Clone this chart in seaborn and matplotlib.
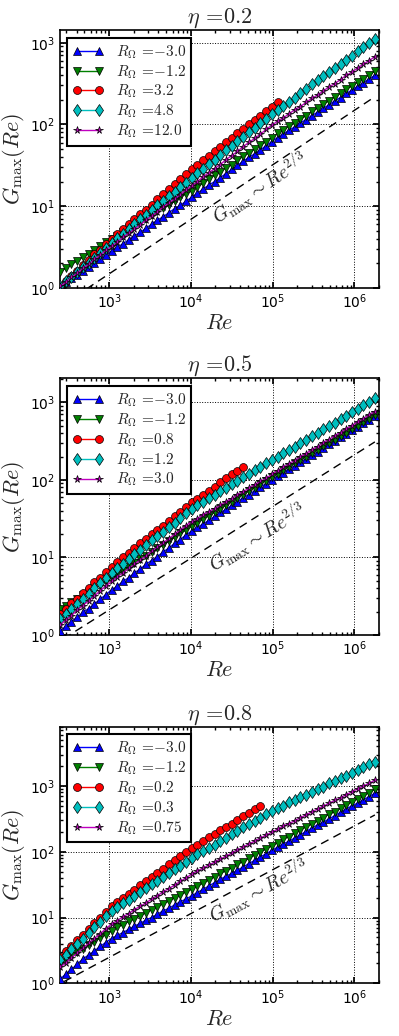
import numpy as np
import pandas as pd
import matplotlib
matplotlib.use("Agg")
import matplotlib.pyplot as plt
import seaborn as sns

# ---------------- data (log10 values) ----------------
logRe = [2.40, 2.47, 2.54, 2.61, 2.68, 2.75, 2.82, 2.89, 2.96, 3.03,
         3.10, 3.17, 3.24, 3.31, 3.38, 3.45, 3.52, 3.59, 3.66, 3.73,
         3.80, 3.87, 3.94, 4.01, 4.08, 4.15, 4.22, 4.29, 4.36, 4.43,
         4.50, 4.57, 4.64, 4.71, 4.78, 4.85, 4.92, 4.99, 5.06, 5.13,
         5.20, 5.27, 5.34, 5.41, 5.48, 5.55, 5.62, 5.69, 5.76, 5.83,
         5.90, 5.97, 6.04, 6.11, 6.18, 6.25]

# eta = 0.2
g02_m30 = [0.02, 0.07, 0.12, 0.16, 0.21, 0.26, 0.31, 0.35, 0.40, 0.45,
           0.50, 0.54, 0.59, 0.64, 0.68, 0.73, 0.78, 0.83, 0.87, 0.92,
           0.97, 1.01, 1.06, 1.11, 1.16, 1.21, 1.26, 1.30, 1.35, 1.40,
           1.45, 1.50, 1.55, 1.60, 1.64, 1.69, 1.74, 1.79, 1.84, 1.88,
           1.93, 1.97, 2.02, 2.06, 2.11, 2.15, 2.20, 2.24, 2.29, 2.33,
           2.38, 2.42, 2.47, 2.51, 2.56, 2.60]
g02_m12 = [0.20, 0.24, 0.29, 0.33, 0.38, 0.42, 0.47, 0.51, 0.56, 0.60,
           0.64, 0.68, 0.73, 0.77, 0.81, 0.85, 0.89, 0.94, 0.98, 1.02,
           1.06, 1.11, 1.15, 1.19, 1.24, 1.28, 1.33, 1.38, 1.42, 1.47,
           1.51, 1.56, 1.61, 1.65, 1.70, 1.75, 1.79, 1.84, 1.89, 1.93,
           1.98, 2.02, 2.07, 2.11, 2.16, 2.20, 2.25, 2.29, 2.34, 2.38,
           2.43, 2.47, 2.52, 2.56, 2.61, 2.65]
g02_p32 = [0.02, 0.08, 0.15, 0.21, 0.28, 0.34, 0.41, 0.47, 0.54, 0.60,
           0.66, 0.72, 0.78, 0.84, 0.90, 0.96, 1.02, 1.09, 1.15, 1.21,
           1.27, 1.33, 1.39, 1.45, 1.51, 1.56, 1.62, 1.67, 1.73, 1.78,
           1.84, 1.89, 1.95, 2.00, 2.06, 2.11, 2.17, 2.22, 2.28]
g02_p48 = [0.02, 0.08, 0.14, 0.20, 0.26, 0.31, 0.37, 0.43, 0.49, 0.55,
           0.61, 0.66, 0.72, 0.78, 0.84, 0.89, 0.95, 1.01, 1.06, 1.12,
           1.18, 1.24, 1.29, 1.35, 1.41, 1.46, 1.52, 1.57, 1.63, 1.69,
           1.74, 1.80, 1.85, 1.91, 1.96, 2.02, 2.07, 2.13, 2.18, 2.23,
           2.28, 2.33, 2.38, 2.44, 2.49, 2.54, 2.59, 2.64, 2.69, 2.74,
           2.79, 2.84, 2.90, 2.95, 3.00, 3.05]
g02_p120 = [0.02, 0.07, 0.13, 0.18, 0.24, 0.29, 0.35, 0.40, 0.46, 0.51,
            0.56, 0.62, 0.67, 0.72, 0.77, 0.83, 0.88, 0.93, 0.99, 1.04,
            1.09, 1.14, 1.20, 1.25, 1.30, 1.36, 1.41, 1.46, 1.51, 1.57,
            1.62, 1.67, 1.73, 1.78, 1.83, 1.88, 1.94, 1.99, 2.04, 2.08,
            2.13, 2.18, 2.22, 2.27, 2.32, 2.36, 2.41, 2.46, 2.50, 2.55,
            2.60, 2.64, 2.69, 2.74, 2.78, 2.83]

# eta = 0.5
g05_m30 = [0.05, 0.11, 0.17, 0.23, 0.29, 0.34, 0.40, 0.46, 0.52, 0.58,
           0.63, 0.69, 0.74, 0.80, 0.85, 0.91, 0.96, 1.01, 1.07, 1.12,
           1.18, 1.23, 1.29, 1.34, 1.39, 1.43, 1.48, 1.53, 1.58, 1.62,
           1.67, 1.72, 1.77, 1.81, 1.86, 1.91, 1.95, 2.00, 2.05, 2.09,
           2.14, 2.18, 2.23, 2.27, 2.32, 2.36, 2.41, 2.46, 2.50, 2.55,
           2.59, 2.64, 2.68, 2.73, 2.77, 2.82]
g05_m12 = [0.33, 0.38, 0.42, 0.47, 0.51, 0.56, 0.60, 0.65, 0.69, 0.74,
           0.79, 0.83, 0.88, 0.93, 0.98, 1.02, 1.07, 1.12, 1.16, 1.21,
           1.26, 1.31, 1.35, 1.40, 1.45, 1.49, 1.54, 1.58, 1.63, 1.67,
           1.72, 1.77, 1.81, 1.86, 1.90, 1.95, 1.99, 2.04, 2.08, 2.13,
           2.17, 2.22, 2.26, 2.30, 2.35, 2.39, 2.44, 2.48, 2.52, 2.57,
           2.61, 2.66, 2.70, 2.75, 2.79, 2.84]
g05_p08 = [0.27, 0.34, 0.41, 0.47, 0.54, 0.61, 0.68, 0.74, 0.81, 0.88,
           0.94, 1.00, 1.06, 1.12, 1.18, 1.24, 1.30, 1.35, 1.41, 1.47,
           1.53, 1.59, 1.65, 1.71, 1.76, 1.81, 1.86, 1.91, 1.97, 2.02,
           2.07, 2.12, 2.17]
g05_p12 = [0.20, 0.27, 0.33, 0.40, 0.47, 0.53, 0.60, 0.67, 0.73, 0.80,
           0.86, 0.92, 0.98, 1.04, 1.10, 1.16, 1.22, 1.27, 1.33, 1.39,
           1.45, 1.51, 1.57, 1.63, 1.68, 1.72, 1.77, 1.81, 1.86, 1.90,
           1.95, 1.99, 2.04, 2.08, 2.13, 2.17, 2.22, 2.26, 2.30, 2.35,
           2.39, 2.43, 2.48, 2.52, 2.57, 2.61, 2.65, 2.70, 2.74, 2.79,
           2.83, 2.87, 2.92, 2.96, 3.00, 3.05]
g05_p30 = [0.13, 0.19, 0.25, 0.32, 0.38, 0.44, 0.50, 0.57, 0.63, 0.69,
           0.75, 0.80, 0.86, 0.91, 0.97, 1.02, 1.08, 1.13, 1.19, 1.24,
           1.30, 1.35, 1.41, 1.46, 1.50, 1.55, 1.59, 1.63, 1.67, 1.72,
           1.76, 1.81, 1.85, 1.89, 1.94, 1.98, 2.02, 2.07, 2.12, 2.16,
           2.21, 2.25, 2.30, 2.34, 2.39, 2.43, 2.48, 2.52, 2.57, 2.61,
           2.66, 2.70, 2.75, 2.79, 2.84, 2.88]

# eta = 0.8
g08_m30 = [0.06, 0.14, 0.21, 0.29, 0.37, 0.43, 0.49, 0.56, 0.62, 0.68,
           0.73, 0.77, 0.82, 0.87, 0.91, 0.96, 1.00, 1.05, 1.10, 1.14,
           1.19, 1.24, 1.28, 1.33, 1.38, 1.43, 1.48, 1.53, 1.58, 1.63,
           1.67, 1.72, 1.77, 1.82, 1.87, 1.92, 1.97, 2.02, 2.07, 2.12,
           2.16, 2.21, 2.26, 2.31, 2.36, 2.41, 2.45, 2.50, 2.55, 2.60,
           2.65, 2.70, 2.74, 2.79, 2.84, 2.89]
g08_m12 = [0.30, 0.36, 0.41, 0.47, 0.52, 0.58, 0.63, 0.69, 0.74, 0.80,
           0.85, 0.89, 0.94, 0.98, 1.03, 1.07, 1.12, 1.16, 1.21, 1.25,
           1.30, 1.34, 1.39, 1.43, 1.48, 1.52, 1.57, 1.62, 1.67, 1.71,
           1.76, 1.81, 1.85, 1.90, 1.95, 2.00, 2.04, 2.09, 2.14, 2.19,
           2.23, 2.28, 2.33, 2.38, 2.42, 2.47, 2.52, 2.57, 2.61, 2.66,
           2.71, 2.76, 2.81, 2.85, 2.90, 2.95]
g08_p02 = [0.40, 0.49, 0.57, 0.66, 0.74, 0.83, 0.91, 1.00, 1.08, 1.17,
           1.23, 1.30, 1.36, 1.42, 1.49, 1.55, 1.61, 1.68, 1.74, 1.81,
           1.87, 1.93, 2.00, 2.06, 2.11, 2.17, 2.22, 2.27, 2.33, 2.38,
           2.43, 2.49, 2.54, 2.59, 2.65, 2.70]
g08_p03 = [0.35, 0.43, 0.52, 0.60, 0.68, 0.77, 0.85, 0.93, 1.02, 1.10,
           1.16, 1.22, 1.27, 1.33, 1.39, 1.45, 1.51, 1.56, 1.62, 1.68,
           1.74, 1.79, 1.85, 1.91, 1.96, 2.01, 2.06, 2.11, 2.16, 2.21,
           2.27, 2.32, 2.37, 2.42, 2.47, 2.52, 2.57, 2.62, 2.66, 2.70,
           2.75, 2.79, 2.83, 2.87, 2.91, 2.95, 2.99, 3.04, 3.08, 3.12,
           3.16, 3.20, 3.25, 3.29, 3.33, 3.37]
g08_p075 = [0.24, 0.31, 0.39, 0.46, 0.53, 0.61, 0.68, 0.75, 0.83, 0.90,
            0.95, 1.01, 1.06, 1.12, 1.17, 1.22, 1.28, 1.33, 1.39, 1.44,
            1.49, 1.55, 1.60, 1.66, 1.71, 1.75, 1.80, 1.84, 1.89, 1.93,
            1.98, 2.03, 2.07, 2.12, 2.16, 2.21, 2.25, 2.30, 2.34, 2.39,
            2.43, 2.47, 2.52, 2.56, 2.61, 2.65, 2.69, 2.74, 2.78, 2.82,
            2.87, 2.91, 2.96, 3.00, 3.04, 3.09]

eta_titles = [r"$\eta\,=\!0.2$", r"$\eta\,=\!0.5$", r"$\eta\,=\!0.8$"]
labels02 = ["-3.0", "-1.2", "3.2", "4.8", "12.0"]
labels05 = ["-3.0", "-1.2", "0.8", "1.2", "3.0"]
labels08 = ["-3.0", "-1.2", "0.2", "0.3", "0.75"]
series02 = [g02_m30, g02_m12, g02_p32, g02_p48, g02_p120]
series05 = [g05_m30, g05_m12, g05_p08, g05_p12, g05_p30]
series08 = [g08_m30, g08_m12, g08_p02, g08_p03, g08_p075]

# reference line G ~ Re^(2/3): two end points (log10) per panel
ref_logRe = [2.30, 6.25]
ref_logG = [[-0.294, 2.340], [-0.144, 2.490], [-0.074, 2.560]]
# annotation positions (Re, G) and rotations
ann_Re = [7.0e4, 6.5e4, 6.8e4]
ann_G = [17.0, 18.6, 26.0]
ann_rot = [34.0, 32.0, 28.5]

ylims = [(1, 1430), (1, 2040), (1, 8000)]

# ---------------- style ----------------
sns.set_theme(style="ticks")
plt.rcParams.update({
    "font.family": ["DejaVu Sans"],
    "mathtext.fontset": "cm",
    "axes.edgecolor": "black",
    "axes.linewidth": 1.2,
    "xtick.direction": "in",
    "ytick.direction": "in",
    "xtick.top": True,
    "ytick.right": True,
    "xtick.major.size": 4.5,
    "ytick.major.size": 4.5,
    "xtick.minor.size": 2.5,
    "ytick.minor.size": 2.5,
    "xtick.minor.visible": True,
    "ytick.minor.visible": True,
    "xtick.labelsize": 10,
    "ytick.labelsize": 10,
    "xtick.color": "black",
    "ytick.color": "black",
    "axes.facecolor": "white",
    "figure.facecolor": "white",
})

colors = ["#0000ff", "#008000", "#ff0000", "#00bfbf", "#bf00bf"]
markers = ["^", "v", "o", "d", "*"]
msizes = [5.7, 5.7, 5.7, 6.1, 5.4]

fig = plt.figure(figsize=(3.99, 10.36), dpi=100)
positions = [[0.150, 0.7220, 0.800, 0.2490],
             [0.150, 0.3871, 0.800, 0.2477],
             [0.150, 0.0509, 0.800, 0.2477]]

all_series = [series02, series05, series08]
all_labels = [labels02, labels05, labels08]


def legend_label(v):
    if v.startswith("-"):
        return r"$R_\Omega\,=\!{-" + v[1:] + "}$"
    return r"$R_\Omega\,=\!" + v + "$"


for p in range(3):
    ax = fig.add_axes(positions[p])
    for s, (vals, lab) in enumerate(zip(all_series[p], all_labels[p])):
        n = len(vals)
        df = pd.DataFrame({"Re": 10 ** np.array(logRe[:n]),
                           "G": 10 ** np.array(vals)})
        sns.lineplot(data=df, x="Re", y="G", ax=ax, color=colors[s],
                     marker=markers[s], markersize=msizes[s],
                     markeredgecolor="black", markeredgewidth=0.5,
                     linewidth=1.0, estimator=None, sort=False,
                     label=legend_label(lab), zorder=3 + s)
    ref_df = pd.DataFrame({"Re": 10 ** np.array(ref_logRe),
                           "G": 10 ** np.array(ref_logG[p])})
    sns.lineplot(data=ref_df, x="Re", y="G", ax=ax, color="black",
                 linewidth=1.0, dashes=False, estimator=None, zorder=2)
    ax.lines[-1].set_dashes((6, 4))
    ax.set_xscale("log")
    ax.set_yscale("log")
    ax.set_xlim(250, 2.0e6)
    ax.set_ylim(*ylims[p])
    ax.grid(True, which="major", color="black", linestyle=":", linewidth=0.7)
    ax.set_axisbelow(True)
    ax.set_xlabel(r"$Re$", fontsize=16, labelpad=1)
    ax.set_ylabel(r"$G_{\max}(Re)$", fontsize=16, labelpad=2)
    ax.set_title(eta_titles[p], fontsize=16, pad=5)
    ax.text(ann_Re[p], ann_G[p], r"$G_{\max}\sim Re^{2/3}$", fontsize=14,
            rotation=ann_rot[p], ha="center", va="center",
            rotation_mode="anchor")
    leg = ax.legend(loc="upper left", numpoints=2, fontsize=11,
                    fancybox=False, framealpha=1.0, edgecolor="black",
                    handlelength=2.0, handletextpad=0.8, labelspacing=0.15,
                    borderpad=0.35, borderaxespad=0.5)
    leg.get_frame().set_linewidth(1.5)
    for sp in ax.spines.values():
        sp.set_linewidth(1.2)

fig.savefig("out.png", dpi=100)
